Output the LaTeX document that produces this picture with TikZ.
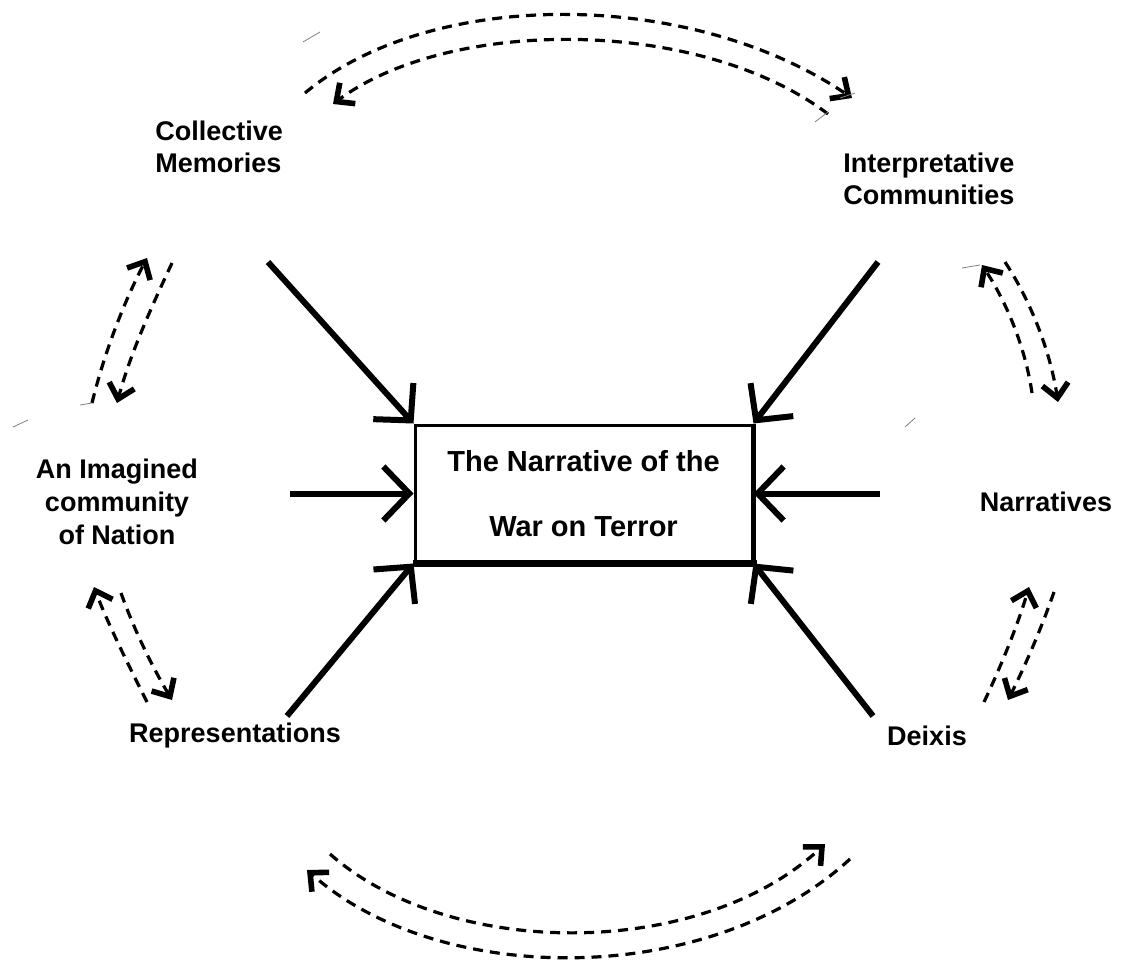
\documentclass[tikz,border=0pt]{standalone}
\usepackage{fontspec}
\setmainfont{Liberation Sans}
\usetikzlibrary{arrows.meta}
\begin{document}
\begin{tikzpicture}[x=0.5pt,y=-0.5pt,
 lbl/.style={font=\fontsize{13.5}{16}\selectfont\bfseries, inner sep=0pt},
 solidarr/.style={line width=3pt, -{Straight Barb[length=13pt,width=27pt]}},
 dasharr/.style={line width=1.6pt, dash pattern=on 5pt off 3.5pt, -{Straight Barb[length=7pt,width=13pt,line width=2.8pt]}},
 faint/.style={line width=0.4pt, gray}]
\useasboundingbox (0,0) rectangle (1124,970);
% central box
\node[draw, line width=1.5pt, minimum width=168.5pt, minimum height=68.5pt, inner sep=0pt,
      align=center, font=\fontsize{14.5}{32.5}\selectfont\bfseries] (box) at (583.5,493.5)
      {The Narrative of the\\War on Terror};
\draw[line width=3.5pt] ([xshift=-0.5pt]box.south west) -- ([xshift=1.5pt]box.south east);
\draw[line width=2.5pt] (box.north east) -- (box.south east);
% labels
\node[lbl, align=left, anchor=west] (cm) at (155,147) {Collective\\Memories};
\node[lbl, align=left, anchor=west] (ic) at (843,179) {Interpretative\\Communities};
\node[lbl, align=center, font=\fontsize{13.5}{16.5}\selectfont\bfseries] (ain) at (117,502) {An Imagined\\community\\of Nation};
\node[lbl] (nar) at (1046,502) {Narratives};
\node[lbl] (rep) at (235,736) {Representations};
\node[lbl] (dei) at (927,736) {Deixis};
% solid arrows
\coordinate (s1) at (268,262);
\coordinate (s2) at (878,262);
\coordinate (s3) at (290,493.5);
\coordinate (s4) at (880,493.5);
\coordinate (s5) at (287,716);
\coordinate (s6) at (873,716);
\draw[solidarr] (s1) -- (box.north west);
\draw[solidarr] (s2) -- (box.north east);
\draw[solidarr] (s3) -- (box.west);
\draw[solidarr] (s4) -- (box.east);
\draw[solidarr] (s5) -- (box.south west);
\draw[solidarr] (s6) -- (box.south east);
% top arcs
\coordinate (ta1) at (305,93); \coordinate (ta2) at (852,98);
\coordinate (tb1) at (333,104); \coordinate (tb2) at (828,114);
\draw[dasharr] (ta1) .. controls (430,-12) and (690,-12) .. (ta2);
\draw[dasharr] (tb2) .. controls (700,17) and (450,17) .. (tb1);
% bottom arcs
\coordinate (ba1) at (330,854); \coordinate (ba2) at (825,844);
\coordinate (bb1) at (307,870); \coordinate (bb2) at (850,859);
\draw[dasharr] (ba1) .. controls (450,960) and (700,960) .. (ba2);
\draw[dasharr] (bb2) .. controls (710,988) and (440,988) .. (bb1);
% left upper
\coordinate (lu1) at (92,403); \coordinate (lu2) at (147,258);
\coordinate (lu3) at (172,263); \coordinate (lu4) at (117,403);
\draw[dasharr] (lu1) .. controls (105,350) and (125,300) .. (lu2);
\draw[dasharr] (lu3) .. controls (150,310) and (130,355) .. (lu4);
% left lower
\coordinate (ll1) at (147,702); \coordinate (ll2) at (94,587);
\coordinate (ll3) at (121,593); \coordinate (ll4) at (172,700);
\draw[dasharr] (ll1) .. controls (128,664) and (108,624) .. (ll2);
\draw[dasharr] (ll3) .. controls (135,632) and (153,668) .. (ll4);
% right upper
\coordinate (ru1) at (1032,393); \coordinate (ru2) at (982,265);
\coordinate (ru3) at (1005,262); \coordinate (ru4) at (1058,402);
\draw[dasharr] (ru1) .. controls (1025,345) and (1005,300) .. (ru2);
\draw[dasharr] (ru3) .. controls (1030,300) and (1050,350) .. (ru4);
% right lower
\coordinate (rl1) at (984,702); \coordinate (rl2) at (1029,587);
\coordinate (rl3) at (1054,592); \coordinate (rl4) at (1008,700);
\draw[dasharr] (rl1) .. controls (1002,664) and (1018,624) .. (rl2);
\draw[dasharr] (rl3) .. controls (1040,632) and (1024,668) .. (rl4);
% faint stray marks
\draw[faint] (303,42) -- (320,32);
\draw[faint] (840,98) -- (855,93);
\draw[faint] (815,122) -- (828,112);
\draw[faint] (13,427) -- (28,420);
\draw[faint] (80,405) -- (92,403);
\draw[faint] (905,427) -- (915,418);
\draw[faint] (962,268) -- (980,265);
\end{tikzpicture}
\end{document}
